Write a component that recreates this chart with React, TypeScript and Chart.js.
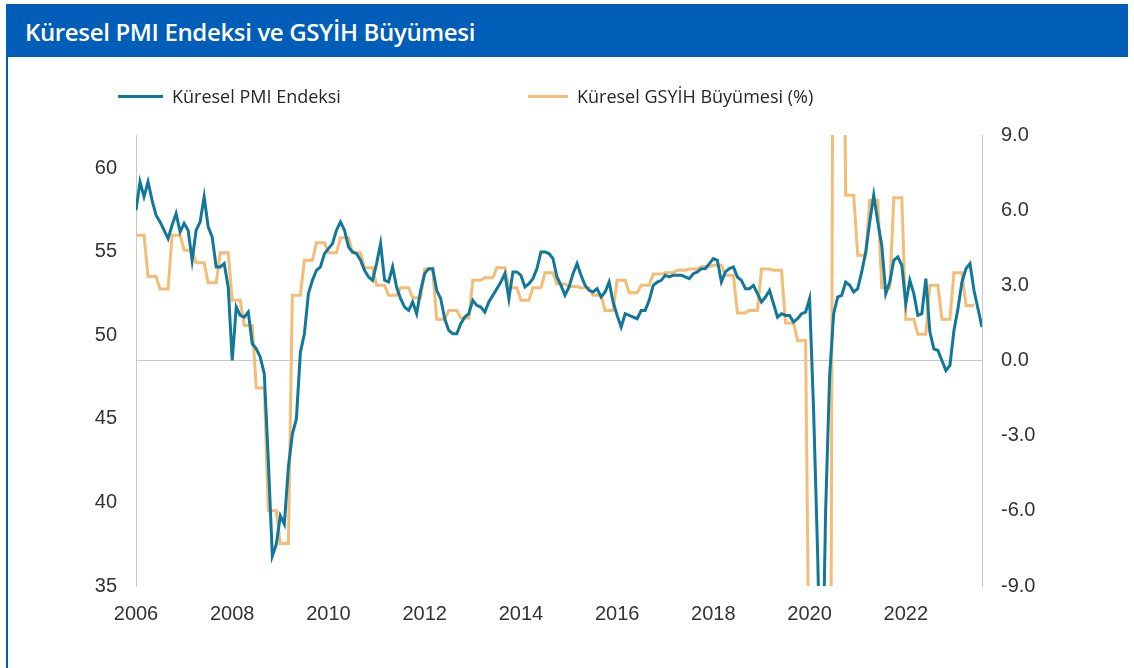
import React, { useEffect, useRef } from "react";
import { Chart, registerables } from "chart.js";

Chart.register(...registerables);

// Monthly data starting January 2006
const START_YEAR = 2006;

const titleText = "Küresel PMI Endeksi ve GSYİH Büyümesi";
const pmiLabel = "Küresel PMI Endeksi";
const gdpLabel = "Küresel GSYİH Büyümesi (%)";

// Global PMI, monthly, Jan 2006 – Aug 2023
const pmiValues: number[] = [
  // 2006
  57.5, 59.2, 58.3, 59.2, 58.1, 57.2, 56.8, 56.3, 55.8, 56.6, 57.3, 56.2,
  // 2007
  56.7, 56.3, 54.5, 56.3, 56.8, 58.3, 56.5, 55.9, 54.1, 54.1, 54.3, 52.9,
  // 2008
  48.5, 51.7, 51.2, 51.1, 51.4, 49.5, 49.2, 48.7, 47.7, 42.5, 36.8, 37.5,
  // 2009
  39.2, 38.7, 42.1, 44.1, 45.0, 49.0, 50.1, 52.5, 53.3, 53.9, 54.1, 54.9,
  // 2010
  55.2, 55.5, 56.3, 56.8, 56.3, 55.3, 55.0, 54.9, 54.5, 53.9, 53.5, 53.3,
  // 2011
  54.3, 55.5, 53.3, 53.2, 54.1, 52.9, 52.2, 51.7, 51.5, 52.0, 51.3, 52.7,
  // 2012
  53.7, 54.0, 54.0, 52.7, 52.2, 51.0, 50.3, 50.1, 50.1, 50.7, 51.1, 51.3,
  // 2013
  52.1, 51.8, 51.7, 51.4, 52.0, 52.4, 52.8, 53.2, 53.7, 52.2, 53.8, 53.8,
  // 2014
  53.6, 52.9, 53.1, 53.4, 54.0, 55.0, 55.0, 54.9, 54.6, 53.5, 53.0, 52.4,
  // 2015
  52.9, 53.7, 54.3, 53.6, 53.0, 52.7, 52.6, 52.8, 52.3, 52.6, 53.2, 52.0,
  // 2016
  51.2, 50.5, 51.3, 51.2, 51.1, 51.0, 51.5, 51.5, 52.1, 53.0, 53.2, 53.3,
  // 2017
  53.6, 53.5, 53.6, 53.6, 53.6, 53.5, 53.4, 53.7, 53.8, 54.0, 54.0, 54.3,
  // 2018
  54.6, 54.5, 53.2, 53.8, 54.0, 54.1, 53.5, 53.3, 52.8, 52.8, 53.0, 52.5,
  // 2019
  52.0, 52.3, 52.7, 51.9, 51.1, 51.3, 51.2, 51.2, 50.8, 51.0, 51.3, 51.4,
  // 2020
  52.2, 45.5, 37.0, 26.0, 39.5, 47.6, 51.3, 52.3, 52.4, 53.2, 53.0, 52.6,
  // 2021
  52.8, 53.8, 55.0, 56.8, 58.4, 56.8, 55.4, 52.5, 53.2, 54.5, 54.7, 54.2,
  // 2022
  51.9, 53.3, 52.5, 51.2, 51.3, 53.4, 50.2, 49.2, 49.1, 48.5, 47.9, 48.2,
  // 2023
  50.3, 51.6, 53.2, 54.0, 54.3, 52.7, 51.6, 50.5,
];

// Global GDP growth (%), quarterly, Q1 2006 – Q2 2023
const gdpQuarterly: number[] = [
  5.0, 3.35, 2.85, 5.0, // 2006
  4.4, 3.9, 3.1, 4.3, // 2007
  2.4, 1.4, -1.1, -6.0, // 2008
  -7.3, 2.6, 4.0, 4.7, // 2009
  4.3, 4.9, 4.3, 3.7, // 2010
  3.0, 2.6, 2.9, 2.5, // 2011
  3.65, 1.65, 2.0, 1.7, // 2012
  3.2, 3.3, 3.7, 2.9, // 2013
  2.4, 2.9, 3.5, 3.05, // 2014
  2.95, 2.9, 2.6, 2.0, // 2015
  3.2, 2.7, 3.0, 3.45, // 2016
  3.5, 3.6, 3.65, 3.75, // 2017
  3.8, 3.4, 1.9, 2.0, // 2018
  3.65, 3.6, 1.5, 0.8, // 2019
  -15.0, -30.0, 25.0, 6.6, // 2020
  4.2, 6.4, 2.9, 6.5, // 2021
  1.65, 1.05, 3.0, 1.65, // 2022
  3.5, 2.2, // 2023
];

const leftMin = 35;
const leftMax = 62;
const leftStep = 5;
const rightMin = -9;
const rightMax = 9;
const rightStep = 3;
const xTickStepMonths = 24;

const COLORS = {
  header: "#005db8",
  pmi: "#12789a",
  gdp: "#f3bd76",
  axis: "#c9c9c9",
  tick: "#333333",
  legendText: "#262626",
};

export default function App() {
  const canvasRef = useRef<HTMLCanvasElement | null>(null);

  useEffect(() => {
    document.body.style.margin = "0";
    const canvas = canvasRef.current;
    if (!canvas) return;

    const pmiData = pmiValues.map((v, i) => ({ x: i, y: v }));
    // quarterly value held for each of the quarter's three months
    const gdpData = gdpQuarterly
      .flatMap((v) => [v, v, v])
      .map((v, i) => ({ x: i, y: v }));
    const lastMonth = pmiValues.length - 1;

    const tickFont = { family: "'Liberation Sans', Arial, sans-serif", size: 20 };

    const chart = new Chart(canvas, {
      type: "line",
      data: {
        datasets: [
          {
            label: pmiLabel,
            data: pmiData,
            yAxisID: "yL",
            borderColor: COLORS.pmi,
            backgroundColor: COLORS.pmi,
            borderWidth: 3,
            pointRadius: 0,
            tension: 0,
          },
          {
            label: gdpLabel,
            data: gdpData,
            yAxisID: "yR",
            borderColor: COLORS.gdp,
            backgroundColor: COLORS.gdp,
            borderWidth: 3,
            pointRadius: 0,
            tension: 0,
          },
        ],
      },
      options: {
        responsive: false,
        animation: false,
        events: [],
        layout: { padding: { top: 135, left: 0, right: 0, bottom: 0 } },
        plugins: {
          legend: { display: false },
          tooltip: { enabled: false },
          title: { display: false },
        },
        scales: {
          x: {
            type: "linear",
            min: 0,
            max: lastMonth,
            grid: { display: false, drawTicks: false },
            border: { display: false },
            ticks: {
              stepSize: xTickStepMonths,
              includeBounds: false,
              autoSkip: false,
              maxRotation: 0,
              padding: 16,
              color: COLORS.tick,
              font: tickFont,
              callback: (v: any) =>
                Number(v) % 12 === 0 ? String(START_YEAR + Number(v) / 12) : null,
            },
            afterFit: (scale: any) => {
              scale.height = 82;
            },
          },
          yL: {
            type: "linear",
            position: "left",
            min: leftMin,
            max: leftMax,
            grid: { display: false, drawTicks: false },
            border: { display: true, color: COLORS.axis, width: 1 },
            ticks: {
              stepSize: leftStep,
              includeBounds: false,
              padding: 19,
              color: COLORS.tick,
              font: tickFont,
              callback: (v: any) => (Number(v) % leftStep === 0 ? String(v) : null),
            },
            afterFit: (scale: any) => {
              scale.width = 136;
            },
          },
          yR: {
            type: "linear",
            position: "right",
            min: rightMin,
            max: rightMax,
            grid: {
              display: true,
              drawTicks: false,
              drawOnChartArea: true,
              color: (ctx: any) =>
                ctx.tick && ctx.tick.value === 0 ? COLORS.axis : "rgba(0,0,0,0)",
              lineWidth: 1,
            },
            border: { display: true, color: COLORS.axis, width: 1 },
            ticks: {
              stepSize: rightStep,
              padding: 19,
              color: COLORS.tick,
              font: tickFont,
              callback: (v: any) => Number(v).toFixed(1),
            },
            afterFit: (scale: any) => {
              scale.width = 152;
            },
          },
        },
      },
    });

    return () => {
      chart.destroy();
    };
  }, []);

  const legendFont = "'Open Sans', 'Noto Sans', sans-serif";

  return (
    <div
      style={{
        position: "relative",
        width: 1134,
        height: 668,
        background: "#ffffff",
        overflow: "hidden",
      }}
    >
      <canvas
        ref={canvasRef}
        width={1134}
        height={668}
        style={{ position: "absolute", left: 0, top: 0, width: 1134, height: 668 }}
      />
      {/* header bar */}
      <div
        style={{
          position: "absolute",
          left: 6,
          top: 4,
          width: 1122,
          height: 53,
          background: COLORS.header,
          color: "#ffffff",
          fontFamily: legendFont,
          fontWeight: 600,
          fontSize: 24,
          letterSpacing: "-0.35px",
          lineHeight: "55px",
          paddingLeft: 19,
          boxSizing: "border-box",
          whiteSpace: "nowrap",
        }}
      >
        {titleText}
      </div>
      {/* left border */}
      <div
        style={{
          position: "absolute",
          left: 6,
          top: 57,
          width: 2,
          height: 611,
          background: COLORS.header,
        }}
      />
      {/* legend */}
      <div
        style={{
          position: "absolute",
          left: 118,
          top: 95,
          width: 45,
          height: 3,
          background: COLORS.pmi,
        }}
      />
      <div
        style={{
          position: "absolute",
          left: 172,
          top: 84,
          fontFamily: legendFont,
          fontSize: 18,
          lineHeight: "24px",
          color: COLORS.legendText,
          whiteSpace: "nowrap",
        }}
      >
        {pmiLabel}
      </div>
      <div
        style={{
          position: "absolute",
          left: 528,
          top: 95,
          width: 40,
          height: 3,
          background: COLORS.gdp,
        }}
      />
      <div
        style={{
          position: "absolute",
          left: 577,
          top: 84,
          fontFamily: legendFont,
          fontSize: 18,
          lineHeight: "24px",
          color: COLORS.legendText,
          whiteSpace: "nowrap",
        }}
      >
        {gdpLabel}
      </div>
    </div>
  );
}
